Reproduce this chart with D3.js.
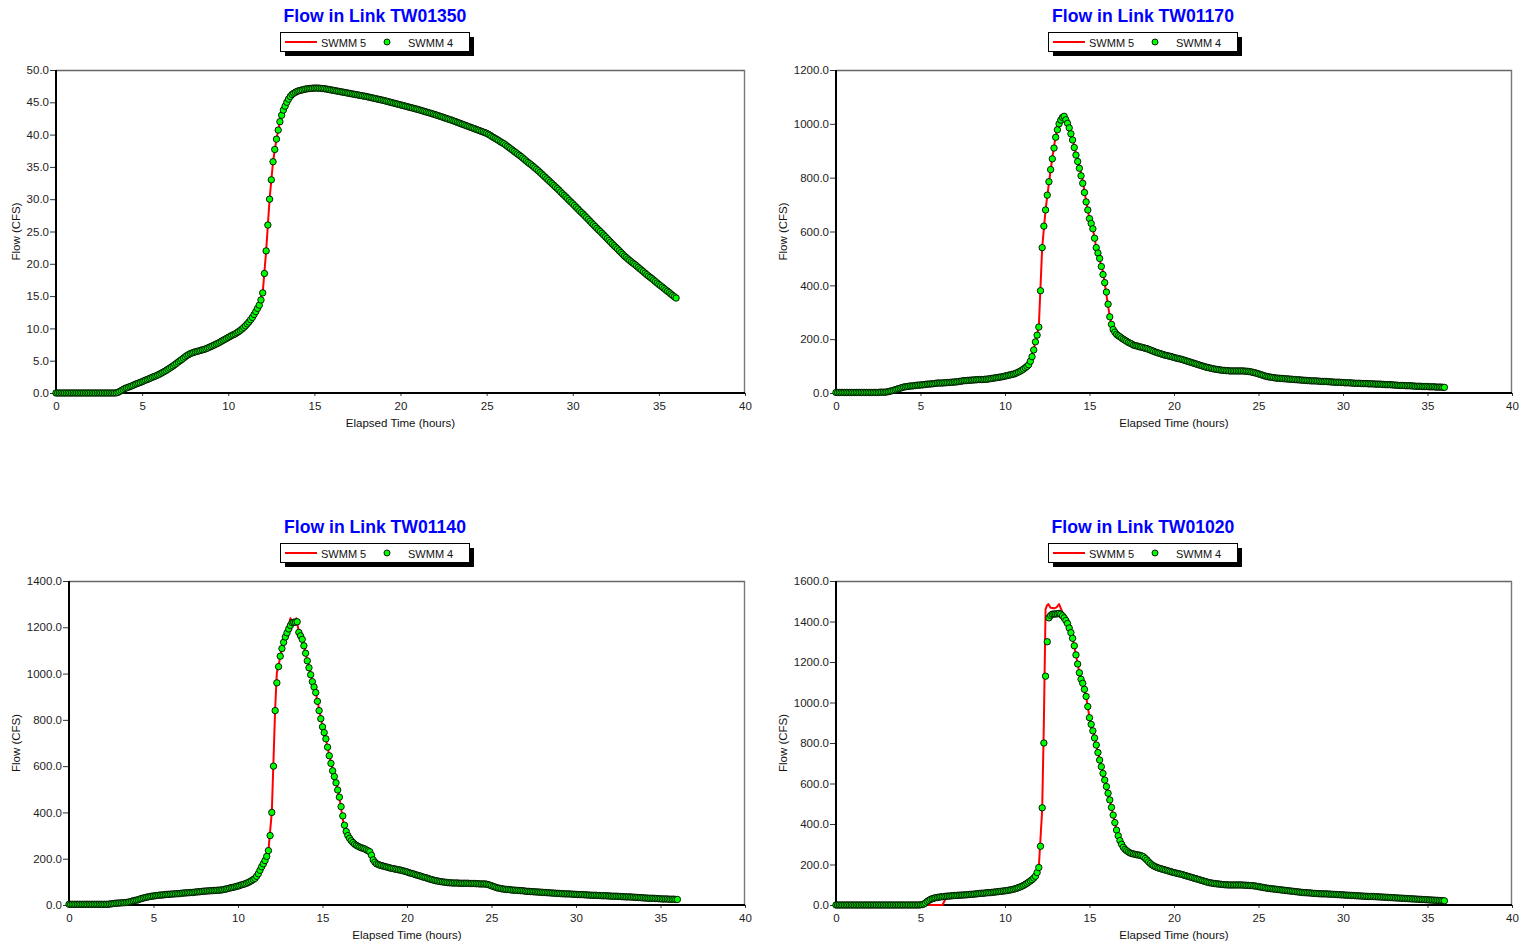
<!DOCTYPE html>
<html><head><meta charset="utf-8">
<script src="https://cdn.jsdelivr.net/npm/d3@7"></script>
<style>
html,body{margin:0;padding:0;background:#fff;}
svg{display:block;}
text{font-family:"Liberation Sans",Arial,Helvetica,sans-serif;}
</style></head><body>
<svg id="c" width="1521" height="946"></svg>
<script>
// ---------------- DATA ----------------
const linkNames = ["TW01350", "TW01170", "TW01140", "TW01020"];
const seriesNames = ["SWMM 5", "SWMM 4"];
const xTickValues = [0, 5, 10, 15, 20, 25, 30, 35, 40];
const xDomain = [0, 40];
const yTicks_TW01350 = [0, 5, 10, 15, 20, 25, 30, 35, 40, 45, 50];
const yTicks_TW01170 = [0, 200, 400, 600, 800, 1000, 1200];
const yTicks_TW01140 = [0, 200, 400, 600, 800, 1000, 1200, 1400];
const yTicks_TW01020 = [0, 200, 400, 600, 800, 1000, 1200, 1400, 1600];
const xTitle = "Elapsed Time (hours)";
const yTitle = "Flow (CFS)";
// SWMM 4 report step (hours)
const swmm4Step = 0.1;

// SWMM 4 flows, t = 0, 0.1, ... 36.0 h (one row = 2 hours)
const swmm4_TW01350 = [
  0,0,0,0,0,0,0,0,0,0, 0,0,0,0,0,0,0,0,0,0,
  0,0,0,0,0,0,0,0,0,0, 0,0,0,0,0,0.02,0.1,0.25,0.4,0.55,
  0.7,0.8,0.9,1.0,1.1,1.22,1.35,1.45,1.55,1.65, 1.75,1.88,2.0,2.1,2.2,2.32,2.45,2.55,2.65,2.78,
  2.9,3.05,3.2,3.35,3.5,3.68,3.85,4.02,4.2,4.4, 4.6,4.8,5.0,5.2,5.4,5.6,5.8,5.95,6.1,6.2,
  6.3,6.38,6.45,6.52,6.6,6.68,6.75,6.85,6.95,7.08, 7.2,7.32,7.45,7.58,7.7,7.85,8.0,8.15,8.3,8.45,
  8.6,8.75,8.9,9.02,9.15,9.32,9.5,9.7,9.9,10.15, 10.4,10.7,11.0,11.35,11.7,12.15,12.6,13.1,13.6,14.4,
  15.5,18.5,22.0,26.0,30.0,33.0,35.8,37.7,39.3,40.7, 42.0,43.0,43.8,44.4,45.0,45.5,45.9,46.2,46.4,46.55,
  46.7,46.78,46.85,46.92,47.0,47.05,47.1,47.13,47.15,47.18, 47.2,47.2,47.2,47.18,47.15,47.13,47.1,47.05,47.0,46.95,
  46.9,46.85,46.8,46.75,46.7,46.65,46.6,46.55,46.5,46.45, 46.4,46.35,46.3,46.25,46.2,46.15,46.1,46.05,46.0,45.95,
  45.9,45.84,45.78,45.72,45.66,45.6,45.54,45.48,45.42,45.36, 45.3,45.23,45.16,45.09,45.02,44.95,44.88,44.81,44.74,44.67,
  44.6,44.53,44.46,44.39,44.32,44.25,44.18,44.11,44.04,43.97, 43.9,43.82,43.74,43.66,43.58,43.5,43.42,43.34,43.26,43.18,
  43.1,43.01,42.92,42.83,42.74,42.65,42.56,42.47,42.38,42.29, 42.2,42.1,42.0,41.9,41.8,41.7,41.6,41.5,41.4,41.3,
  41.2,41.1,41.0,40.9,40.8,40.7,40.6,40.5,40.4,40.3, 40.2,40.05,39.9,39.72,39.55,39.4,39.25,39.08,38.9,38.75,
  38.6,38.4,38.2,38.0,37.8,37.6,37.4,37.2,37.0,36.8, 36.6,36.38,36.15,35.92,35.7,35.5,35.3,35.08,34.85,34.62,
  34.4,34.15,33.9,33.65,33.4,33.15,32.9,32.65,32.4,32.15, 31.9,31.65,31.4,31.12,30.85,30.6,30.35,30.08,29.8,29.55,
  29.3,29.02,28.75,28.48,28.2,27.95,27.7,27.42,27.15,26.88, 26.6,26.32,26.05,25.78,25.5,25.25,25.0,24.72,24.45,24.18,
  23.9,23.62,23.35,23.08,22.8,22.55,22.3,22.02,21.75,21.48, 21.2,20.98,20.75,20.52,20.3,20.1,19.9,19.68,19.45,19.22,
  19.0,18.78,18.55,18.32,18.1,17.9,17.7,17.48,17.25,17.02, 16.8,16.6,16.4,16.18,15.95,15.75,15.55,15.32,15.1,14.9,
  14.7
];
const swmm4_TW01170 = [
  2,2,2,2,2,2,2,2,2,2, 2,2,2,2,2,2,2,2,2,2,
  2,2,2,2,2,2,3,3,3,3, 4,5,7,8,10,12,14,16,18,20,
  22,23,24,25,26,26,27,28,29,29, 30,30,31,32,33,33,34,34,35,36,
  37,37,37,37,38,38,39,39,40,40, 41,41,42,43,44,45,46,46,47,47,
  48,48,49,49,50,50,50,50,51,51, 52,53,54,55,56,57,58,59,60,61,
  63,64,66,67,69,70,72,75,78,81, 85,89,94,99,105,118,135,160,190,215,
  245,380,540,620,680,735,785,830,870,910, 950,978,1000,1014,1024,1028,1015,1002,985,963,
  940,912,884,860,835,807,779,745,710,680, 648,630,610,575,540,520,500,470,440,410,
  375,330,283,255,236,226,218,213,209,204, 200,196,192,188,185,182,178,176,175,173,
  171,170,168,166,165,162,160,157,155,152, 150,148,146,144,142,140,139,137,136,134,
  132,130,129,127,126,124,122,120,118,116, 114,112,110,108,106,104,102,100,98,96,
  95,93,92,90,89,88,87,86,85,84, 84,83,83,82,82,82,82,82,82,82,
  82,82,81,81,80,79,78,76,75,73, 71,69,67,65,63,61,60,59,58,57,
  56,55,55,54,54,53,53,52,52,51, 51,50,50,49,49,48,48,47,47,46,
  46,45,45,45,45,44,44,43,43,43, 43,42,42,41,41,40,40,40,40,39,
  39,38,38,38,38,37,37,36,36,36, 36,35,35,35,35,34,34,34,34,33,
  33,33,33,32,32,31,31,31,31,30, 30,29,29,28,28,28,28,27,27,27,
  27,26,26,25,25,25,25,24,24,24, 24,23,23,23,23,22,22,22,22,21,
  21
];
const swmm4_TW01140 = [
  3,3,3,3,3,3,3,3,3,3, 3,3,3,3,3,3,3,3,3,3,
  3,3,3,3,4,5,6,7,8,8, 9,9,10,10,11,12,14,16,18,20,
  21,23,26,28,30,32,34,35,37,38, 39,40,41,42,43,43,44,45,46,46,
  47,47,48,48,49,49,50,51,52,52, 53,53,54,54,55,56,57,57,58,59,
  60,60,61,61,62,62,63,63,64,64, 65,66,68,69,71,73,75,76,78,80,
  82,84,87,89,91,94,97,101,105,110, 115,124,135,150,165,178,192,210,235,300,
  400,600,840,960,1030,1075,1108,1135,1158,1176, 1193,1208,1220,1222,1222,1224,1178,1163,1148,1120,
  1088,1055,1025,995,965,942,918,880,840,805, 770,745,718,682,645,612,580,555,528,497,
  466,425,385,345,318,300,288,278,270,263, 258,254,250,247,245,242,238,234,230,215,
  195,185,178,175,172,170,168,166,164,162, 160,158,157,155,154,152,151,149,147,145,
  143,140,138,136,134,131,129,127,125,122, 120,118,116,113,111,109,107,105,104,102,
  101,100,99,98,97,96,96,95,95,95, 95,94,94,94,94,94,94,93,93,93,
  93,92,92,91,91,91,91,90,88,86, 83,80,78,75,73,72,70,69,68,67,
  67,66,65,64,64,63,63,62,62,61, 60,59,59,58,58,57,57,56,56,55,
  55,54,54,53,53,52,52,51,51,50, 50,49,49,48,48,48,48,47,47,46,
  46,45,45,45,45,44,44,43,43,42, 42,42,42,41,41,40,40,40,40,39,
  39,38,38,38,38,37,37,36,36,35, 35,35,35,34,34,33,33,32,32,31,
  31,30,30,29,29,29,29,28,28,27, 27,26,26,26,26,25,25,25,25,24,
  24
];
const swmm4_TW01020 = [
  0,0,0,0,0,0,0,0,0,0, 0,0,0,0,0,0,0,0,0,0,
  0,0,0,0,0,0,0,0,0,0, 0,0,0,0,0,0,0,0,0,0,
  0,0,0,0,0,0,0,0,0,0, 1,2,5,10,18,23,28,31,34,36,
  37,39,40,41,42,43,44,44,45,46, 47,47,48,48,49,49,50,50,51,52,
  53,53,54,55,56,57,58,58,59,60, 61,61,62,63,64,65,66,67,68,69,
  70,71,73,74,76,78,80,83,86,89, 93,97,102,107,113,119,125,133,142,160,
  185,290,480,800,1130,1300,1418,1430,1436,1437, 1437,1438,1440,1436,1428,1418,1405,1390,1368,1345,
  1317,1280,1235,1190,1147,1115,1095,1065,1030,980, 925,892,860,825,790,753,716,683,650,617,
  585,552,519,482,444,407,370,342,318,300, 285,275,268,262,257,254,252,250,248,247,
  245,242,238,230,222,213,205,198,193,189, 185,182,180,177,175,172,170,167,165,162,
  160,158,156,154,152,150,147,145,142,140, 137,135,132,130,127,125,122,120,117,115,
  112,110,109,107,106,105,104,103,102,101, 100,100,99,99,99,99,99,99,99,99,
  99,98,98,97,97,96,96,95,94,92, 91,89,88,86,85,83,82,81,80,79,
  78,77,76,75,74,73,72,71,70,69, 68,67,66,65,64,63,62,61,61,60,
  60,59,58,57,57,56,56,55,55,55, 55,54,54,53,53,52,52,51,51,50,
  50,49,49,48,48,47,47,46,46,45, 45,44,44,43,43,42,42,42,42,41,
  41,40,40,39,39,38,38,37,37,36, 36,35,35,34,34,33,33,32,32,31,
  31,30,30,29,29,28,28,27,27,26, 26,25,25,24,24,23,23,22,22,21,
  21
];

// SWMM 5 flows as [hours, cfs]
const swmm5_TW01350 = [[0,0],[3.5,0],[4,0.7],[5,1.75],[6,2.9],[7,4.6],[7.6,5.8],[8,6.3],[9,7.2],[10,8.6],[11,10.4],[11.6,12.6],[12,15.5],[12.2,22],[12.4,30],[12.6,35.8],[12.8,39.3],[13,42],[13.4,45],[13.8,46.4],[14.4,47],[15,47.2],[16,46.9],[18,45.9],[20,44.6],[22,43.1],[24,41.2],[25,40.2],[26,38.6],[27,36.6],[28,34.4],[29,31.9],[30,29.3],[31,26.6],[32,23.9],[33,21.2],[34,19],[35,16.8],[36,14.7]];
const swmm5_TW01170 = [[0,2],[2.6,3],[3,4],[3.4,10],[4,22],[5,30],[6,37],[7,41],[8,48],[9,52],[10,63],[10.8,78],[11.2,94],[11.6,135],[11.8,190],[12,245],[12.2,540],[12.4,680],[12.6,780],[12.8,874],[13,955],[13.2,1002],[13.4,1028],[13.6,1018],[13.8,985],[14,945],[14.2,885],[14.4,845],[14.6,788],[14.8,712],[15,647],[15.2,610],[15.4,540],[15.6,495],[15.8,450],[16,365],[16.2,283],[16.4,236],[16.8,209],[17.4,185],[18,171],[19,150],[20,132],[21,114],[22,95],[23,84],[24,82],[24.6,78],[25,71],[25.6,60],[26,56],[27,51],[28,46],[29,43],[30,39],[31,36],[32,33],[33,30],[34,27],[35,24],[36,21]];
const swmm5_TW01140 = [[0,3],[2.4,4],[2.8,8],[3.4,11],[4,21],[4.6,34],[5,39],[6,47],[7,53],[8,60],[9,65],[10,82],[10.6,97],[11,115],[11.4,165],[11.8,235],[12,400],[12.2,850],[12.3,1005],[12.4,1035],[12.6,1110],[12.8,1162],[13,1205],[13.1,1239],[13.25,1215],[13.45,1239],[13.6,1180],[13.8,1148],[14,1088],[14.2,1025],[14.4,963],[14.6,918],[14.8,846],[15,773],[15.2,718],[15.4,646],[15.6,590],[15.8,530],[16,466],[16.2,370],[16.4,305],[16.6,280],[17,258],[17.4,245],[17.8,230],[18,195],[18.4,172],[19,160],[20,143],[21,120],[22,101],[23,95],[24,93],[24.6,91],[25,83],[25.6,70],[26,67],[27,60],[28,55],[29,50],[30,46],[31,42],[32,39],[33,35],[34,31],[35,27],[36,24]];
const swmm5_TW01020 = [[0,0],[6.3,0],[6.55,42],[7,47],[8,53],[9,61],[10,70],[10.6,80],[11,93],[11.4,113],[11.8,142],[12,185],[12.2,470],[12.3,900],[12.4,1460],[12.48,1478],[12.56,1486],[12.7,1468],[12.9,1465],[13.05,1470],[13.2,1486],[13.35,1455],[13.5,1415],[13.7,1392],[13.8,1368],[14,1317],[14.2,1235],[14.4,1147],[14.6,1095],[14.8,1030],[15,925],[15.2,860],[15.4,790],[15.6,716],[15.8,650],[16,585],[16.2,519],[16.4,444],[16.6,370],[16.8,318],[17,285],[17.4,257],[18,245],[18.2,238],[18.6,205],[19,185],[20,160],[21,137],[22,112],[23,100],[24,99],[24.6,96],[25,91],[26,78],[27,68],[28,60],[29,55],[30,50],[31,45],[32,41],[33,36],[34,31],[35,26],[36,21]];

// ---------------- LAYOUT ----------------
const layout = [
  {left:56,  right:745,  top:70,  bottom:393, cx:375,  legX:280,  titleY:22,  yTitleX:20},
  {left:836, right:1512, top:70,  bottom:393, cx:1143, legX:1048, titleY:22,  yTitleX:787},
  {left:69,  right:745,  top:581, bottom:905, cx:375,  legX:280,  titleY:533, yTitleX:20},
  {left:836, right:1512, top:581, bottom:905, cx:1143, legX:1048, titleY:533, yTitleX:787}
];
const yTicksList = [yTicks_TW01350, yTicks_TW01170, yTicks_TW01140, yTicks_TW01020];
const swmm4List = [swmm4_TW01350, swmm4_TW01170, swmm4_TW01140, swmm4_TW01020];
const swmm5List = [swmm5_TW01350, swmm5_TW01170, swmm5_TW01140, swmm5_TW01020];

const svg = d3.select("#c");
const RED = "#ff0000", GREEN = "#00ff00";
const fmtY = d3.format(".1f"), fmtX = d3.format("d");
const AXFONT = "11.5px";

layout.forEach((L, i) => {
  const g = svg.append("g");
  const yTicks = yTicksList[i];
  const x = d3.scaleLinear().domain(xDomain).range([L.left, L.right]);
  const y = d3.scaleLinear().domain([0, d3.max(yTicks)]).range([L.bottom, L.top]);

  // title
  g.append("text").attr("x", L.cx).attr("y", L.titleY)
    .attr("text-anchor", "middle").attr("font-size", "17.6px").attr("font-weight", "bold")
    .attr("fill", "#0000ff").text("Flow in Link " + linkNames[i]);

  // legend
  const ly = L.titleY + 10;
  const lg = g.append("g").attr("transform", `translate(${L.legX},${ly})`);
  lg.append("rect").attr("x", 5).attr("y", 5).attr("width", 189).attr("height", 19).attr("fill", "#000");
  lg.append("rect").attr("x", 0.5).attr("y", 0.5).attr("width", 189).attr("height", 19)
    .attr("fill", "#fff").attr("stroke", "#000").attr("stroke-width", 1);
  lg.append("line").attr("x1", 5).attr("x2", 37).attr("y1", 10).attr("y2", 10)
    .attr("stroke", RED).attr("stroke-width", 2);
  lg.append("text").attr("x", 41).attr("y", 14.5).attr("font-size", "11px").attr("fill", "#111").text(seriesNames[0]);
  lg.append("circle").attr("cx", 107).attr("cy", 10).attr("r", 3)
    .attr("fill", GREEN).attr("stroke", "#000").attr("stroke-width", 0.9);
  lg.append("text").attr("x", 128).attr("y", 14.5).attr("font-size", "11px").attr("fill", "#111").text(seriesNames[1]);

  // frame (top/right)
  g.append("line").attr("x1", L.left).attr("x2", L.right).attr("y1", L.top + 0.5).attr("y2", L.top + 0.5)
    .attr("stroke", "#666").attr("stroke-width", 1.4);
  g.append("line").attr("x1", L.right - 0.5).attr("x2", L.right - 0.5).attr("y1", L.top).attr("y2", L.bottom)
    .attr("stroke", "#777").attr("stroke-width", 1.4);

  // y axis
  const ya = g.append("g").attr("transform", `translate(${L.left},0)`)
    .call(d3.axisLeft(y).tickValues(yTicks).tickFormat(fmtY).tickSize(6).tickPadding(1));
  ya.select(".domain").remove();
  ya.selectAll("text").attr("font-size", AXFONT).attr("fill", "#222").style("font-family", '"Liberation Sans",Arial,sans-serif');
  ya.selectAll("line").attr("stroke", "#333");

  // x axis
  const xa = g.append("g").attr("transform", `translate(0,${L.bottom})`)
    .call(d3.axisBottom(x).tickValues(xTickValues).tickFormat(fmtX).tickSize(3).tickPadding(6));
  xa.select(".domain").remove();
  xa.selectAll("text").attr("font-size", AXFONT).attr("fill", "#222").style("font-family", '"Liberation Sans",Arial,sans-serif');
  xa.selectAll("line").attr("stroke", "#333");

  // axis lines (thick)
  g.append("line").attr("x1", L.left).attr("x2", L.left).attr("y1", L.top).attr("y2", L.bottom + 1)
    .attr("stroke", "#000").attr("stroke-width", 2);
  g.append("line").attr("x1", L.left - 1).attr("x2", L.right).attr("y1", L.bottom).attr("y2", L.bottom)
    .attr("stroke", "#000").attr("stroke-width", 2);

  // axis titles
  g.append("text").attr("x", (L.left + L.right) / 2).attr("y", L.bottom + 33.5)
    .attr("text-anchor", "middle").attr("font-size", AXFONT).attr("fill", "#111").text(xTitle);
  g.append("text").attr("transform", `translate(${L.yTitleX},${(L.top + L.bottom) / 2}) rotate(-90)`)
    .attr("text-anchor", "middle").attr("font-size", AXFONT).attr("fill", "#111").text(yTitle);

  // SWMM 5 line
  const line = d3.line().x(d => x(d[0])).y(d => y(d[1]));
  g.append("path").datum(swmm5List[i]).attr("d", line)
    .attr("fill", "none").attr("stroke", RED).attr("stroke-width", 2).attr("stroke-linejoin", "round");

  // SWMM 4 markers
  g.append("g").selectAll("circle").data(swmm4List[i]).join("circle")
    .attr("cx", (d, k) => x(k * swmm4Step)).attr("cy", d => y(d)).attr("r", 3.2)
    .attr("fill", GREEN).attr("stroke", "#000").attr("stroke-width", 0.9);
});
</script>
</body></html>
